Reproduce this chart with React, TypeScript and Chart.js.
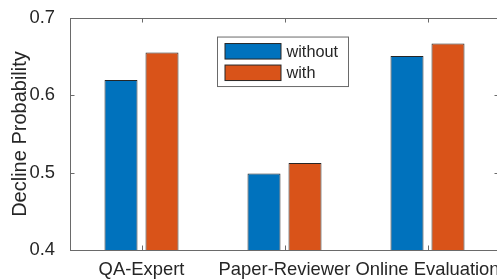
import React, { useEffect, useRef } from "react";
import { Chart, registerables } from "chart.js";

Chart.register(...registerables);

const categories = ["QA-Expert", "Paper-Reviewer", "Online Evaluation"];
const withoutValues = [0.62, 0.499, 0.651];
const withValues = [0.6555, 0.5125, 0.667];
const yTicks = [0.4, 0.5, 0.6, 0.7];
const seriesLabels = ["without", "with"];

const FONT = "'Liberation Sans', Arial, Helvetica, sans-serif";
const TEXT = "#262626";
const AXIS = "#6a6a6a";
const BLUE = "#0072BD";
const ORANGE = "#D95319";

const boxPlugin = {
  id: "matlabBox",
  afterDatasetsDraw(chart: any) {
    const { ctx, chartArea } = chart;
    const { left, right, top, bottom } = chartArea;
    const tl = 4.5;
    ctx.save();
    ctx.strokeStyle = AXIS;
    ctx.lineWidth = 1;
    ctx.beginPath();
    ctx.rect(Math.round(left) + 0.5, Math.round(top) + 0.5, Math.round(right - left), Math.round(bottom - top));
    ctx.stroke();
    const yScale = chart.scales.y;
    ctx.beginPath();
    yTicks.forEach((v) => {
      const py = Math.round(yScale.getPixelForValue(v)) + 0.5;
      ctx.moveTo(left, py);
      ctx.lineTo(left + tl, py);
      ctx.moveTo(right, py);
      ctx.lineTo(right - tl, py);
    });
    const xScale = chart.scales.x;
    categories.forEach((_, i) => {
      const px = Math.round(xScale.getPixelForValue(i)) + 0.5;
      ctx.moveTo(px, bottom);
      ctx.lineTo(px, bottom - tl);
      ctx.moveTo(px, top);
      ctx.lineTo(px, top + tl);
    });
    ctx.stroke();
    ctx.restore();
  },
  afterDraw(chart: any) {
    const { ctx, chartArea } = chart;
    const lx = chartArea.left + 147.5;
    const ly = chartArea.top + 19;
    const lw = 131;
    const lh = 49.5;
    ctx.save();
    ctx.fillStyle = "#ffffff";
    ctx.fillRect(lx, ly, lw, lh);
    ctx.strokeStyle = AXIS;
    ctx.lineWidth = 1;
    ctx.strokeRect(lx, ly, lw, lh);
    const colors = [BLUE, ORANGE];
    chart.data.datasets.forEach((ds: any, i: number) => {
      const sy = ly + 6.5 + i * 21.5;
      ctx.fillStyle = colors[i];
      ctx.fillRect(lx + 7.5, sy, 56, 15.5);
      ctx.strokeStyle = "#262626";
      ctx.strokeRect(lx + 7.5, sy, 56, 15.5);
      ctx.fillStyle = TEXT;
      ctx.font = `16.3px ${FONT}`;
      ctx.textBaseline = "middle";
      ctx.textAlign = "left";
      ctx.fillText(ds.label, lx + 69, sy + 8.5);
    });
    ctx.restore();
  },
};

export default function App() {
  const ref = useRef<HTMLCanvasElement>(null);
  useEffect(() => {
    if (!ref.current) return;
    const chart = new Chart(ref.current, {
      type: "bar",
      data: {
        labels: categories,
        datasets: [
          {
            label: seriesLabels[0],
            data: withoutValues,
            backgroundColor: BLUE,
            borderColor: "#262626",
            borderWidth: 1,
            borderSkipped: false,
            categoryPercentage: 0.5734,
            barPercentage: 0.805,
          },
          {
            label: seriesLabels[1],
            data: withValues,
            backgroundColor: ORANGE,
            borderColor: "#262626",
            borderWidth: 1,
            borderSkipped: false,
            categoryPercentage: 0.5734,
            barPercentage: 0.805,
          },
        ],
      },
      plugins: [boxPlugin],
      options: {
        responsive: false,
        animation: false,
        devicePixelRatio: 1,
        layout: { padding: { left: 0, top: 17.5, right: 6, bottom: 0 } },
        plugins: {
          legend: { display: false },
          tooltip: { enabled: false },
        },
        scales: {
          x: {
            type: "category",
            offset: true,
            grid: { display: false },
            border: { display: false },
            ticks: {
              color: TEXT,
              font: { family: FONT, size: 18.4 },
              padding: 1,
              maxRotation: 0,
              autoSkip: false,
            },
            afterFit: (s: any) => {
              s.height = 29;
            },
          },
          y: {
            min: 0.4,
            max: 0.7,
            grid: { display: false },
            border: { display: false },
            afterBuildTicks: (s: any) => {
              s.ticks = yTicks.map((v) => ({ value: v }));
            },
            ticks: {
              color: TEXT,
              font: { family: FONT, size: 18.4 },
              padding: 7,
              callback: (v: any) => Number(v).toFixed(1),
            },
            title: {
              display: true,
              text: "Decline Probability",
              color: TEXT,
              font: { family: FONT, size: 20 },
              padding: { top: 8, bottom: 0 },
            },
            afterFit: (s: any) => {
              s.width = 70;
            },
          },
        },
      },
    });
    return () => chart.destroy();
  }, []);
  return (
    <div
      style={{
        position: "absolute",
        left: 0,
        top: 0,
        width: 497,
        height: 279,
        overflow: "hidden",
        background: "#fff",
      }}
    >
      <canvas ref={ref} width={505} height={279} style={{ width: 505, height: 279, display: "block" }} />
    </div>
  );
}
